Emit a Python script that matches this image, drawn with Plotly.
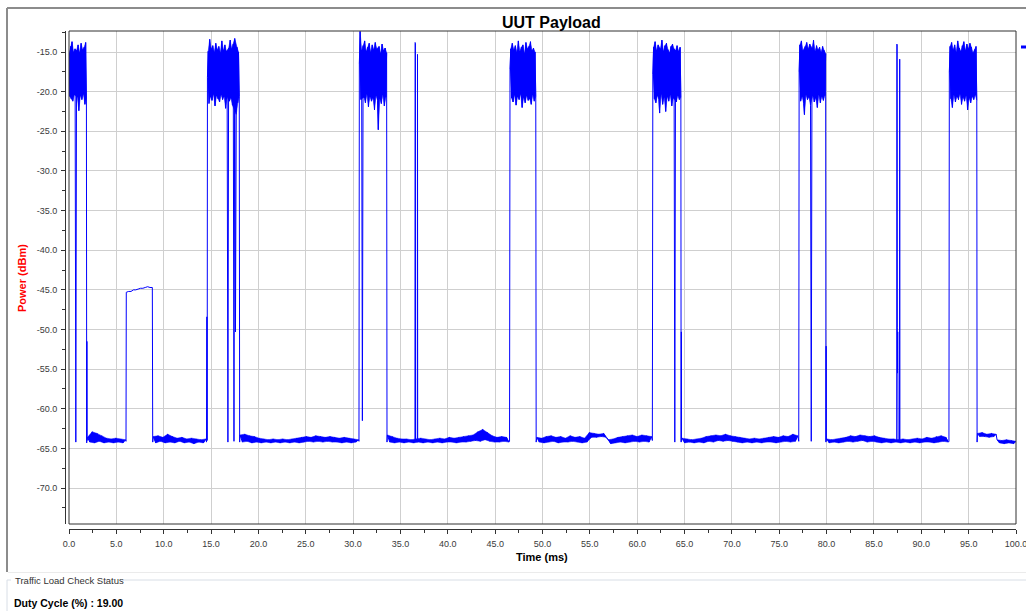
import numpy as np
import plotly.graph_objects as go

# ---------------- data (time in ms, power in dBm) ----------------
# bursts: (start, end) and sampled power values (alternating high / low samples)
b1_span = (0.0, 1.84)
b1_vals = [-15.2, -20.6, -14.3, -20.9, -13.7, -21.2, -15.0, -20.4, -14.6, -64.2, -14.8, -20.7,
           -14.1, -22.4, -15.1, -20.5, -13.9, -21.0, -14.7, -20.3, -14.4, -21.6, -13.8, -20.8]
b2_span = (14.62, 17.98)
b2_vals = [-18.2, -14.9, -21.5, -13.4, -20.6, -14.6, -21.1, -14.2, -20.3, -15.0, -21.8, -13.9,
           -20.5, -14.7, -20.9, -14.3, -21.3, -15.1, -20.4, -13.6, -21.0, -14.8, -20.6, -14.1,
           -22.1, -14.9, -20.7, -64.2, -14.5, -21.2, -13.5, -20.8, -14.6, -21.7, -14.0, -64.1,
           -13.3, -50.3, -22.9, -14.4, -21.4, -15.0, -20.6]
b3_span = (30.66, 33.54)
b3_vals = [-16.5, -12.4, -21.0, -14.8, -61.5, -14.2, -20.7, -13.6, -21.4, -14.9, -20.3, -14.4,
           -21.9, -13.9, -20.6, -15.0, -21.2, -14.1, -20.8, -14.7, -22.3, -13.8, -20.5, -14.6,
           -21.1, -24.8, -14.3, -20.9, -15.2, -21.5, -14.0, -20.4, -14.8, -21.8, -14.5, -20.7, -15.1]
b4_span = (46.57, 49.29)
b4_vals = [-17.2, -14.6, -20.8, -13.9, -21.3, -14.7, -20.4, -14.2, -21.7, -15.0, -20.6, -13.6,
           -21.0, -14.9, -20.3, -14.4, -22.0, -14.1, -20.7, -15.2, -21.4, -13.8, -20.5, -14.6,
           -21.1, -14.3, -20.9, -13.7, -21.6, -14.8, -20.4, -14.5, -21.2, -15.0, -20.6]
b5_span = (61.65, 64.61)
b5_vals = [-17.8, -14.4, -20.9, -13.7, -21.4, -14.8, -20.5, -14.1, -21.0, -22.7, -14.6, -20.3,
           -13.5, -21.6, -14.9, -20.7, -14.2, -22.5, -13.9, -20.6, -14.7, -21.2, -15.1, -20.4,
           -14.3, -21.8, -14.0, -20.8, -14.6, -64.2, -14.8, -21.3, -14.2, -20.5, -14.9, -21.0,
           -14.4, -20.7]
b6_span = (77.1, 79.9)
b6_vals = [-17.5, -14.1, -21.2, -13.6, -20.6, -14.8, -21.5, -22.9, -14.3, -20.4, -13.8, -21.0,
           -14.6, -20.7, -14.0, -21.7, -64.1, -14.5, -20.5, -13.5, -21.3, -14.9, -20.8, -14.2,
           -22.0, -14.7, -20.4, -14.4, -21.4, -15.0, -20.6, -14.3, -21.1, -14.8, -20.5, -15.2]
b7_span = (92.96, 95.86)
b7_vals = [-17.6, -14.3, -20.9, -13.8, -22.0, -14.7, -20.4, -14.1, -21.3, -15.0, -20.6, -13.6,
           -21.0, -14.5, -20.3, -14.9, -21.6, -14.2, -20.7, -13.7, -21.2, -14.8, -20.5, -14.0,
           -22.3, -14.6, -20.8, -13.9, -21.4, -14.4, -20.6, -15.1, -21.0, -14.7, -20.4, -14.3, -21.1]

# low-level (about -45 dBm) burst
s1_span = (6.05, 8.80)
s1_vals = [-45.3, -45.2, -45.2, -45.0, -45.0, -44.9, -44.8, -44.8, -44.7, -44.6, -44.7, -44.7]

# noise floor segments (alternating upper / lower samples)
f1_span = (1.95, 5.95)
f1_vals = [-63.6, -64.2, -62.9, -64.3, -63.1, -64.1, -63.4, -64.3, -63.7, -64.2, -63.8, -64.3,
           -63.7, -64.2, -63.8, -64.3, -63.9]
f2_span = (8.9, 14.45)
f2_vals = [-63.5, -64.3, -63.4, -64.1, -63.6, -64.3, -63.2, -64.2, -63.5, -64.3, -63.7, -64.1,
           -63.6, -64.3, -63.8, -64.2, -63.7, -64.4, -63.8, -64.2, -63.9, -64.3, -63.8]
f3_span = (18.06, 30.56)
f3_vals = [-63.3, -64.2, -63.2, -64.1, -63.4, -64.3, -63.5, -64.2, -63.7, -64.3, -63.8, -64.2,
           -63.9, -64.3, -63.8, -64.2, -63.9, -64.3, -63.8, -64.2, -63.9, -64.3, -63.8, -64.2,
           -63.7, -64.3, -63.6, -64.2, -63.5, -64.1, -63.6, -64.2, -63.4, -64.1, -63.5, -64.2,
           -63.6, -64.1, -63.5, -64.2, -63.6, -64.2, -63.7, -64.3, -63.6, -64.2, -63.7, -64.3,
           -63.8, -64.2, -63.9]
f4_span = (33.62, 46.45)
f4_vals = [-63.3, -64.2, -63.5, -64.3, -63.7, -64.2, -63.8, -64.3, -63.8, -64.2, -63.9, -64.3,
           -63.8, -64.2, -63.7, -64.3, -63.8, -64.2, -63.9, -64.3, -63.8, -64.2, -63.7, -64.3,
           -63.8, -64.2, -63.6, -64.2, -63.7, -64.3, -63.6, -64.2, -63.5, -64.2, -63.4, -64.1,
           -63.3, -64.0, -62.9, -64.1, -62.6, -63.9, -63.0, -64.1, -63.4, -64.2, -63.6, -64.2,
           -63.5, -64.1, -63.6, -64.2]
f5_span = (49.4, 61.5)
f5_vals = [-63.6, -64.2, -63.7, -64.3, -63.5, -64.2, -63.4, -64.1, -63.6, -64.3, -63.5, -64.2,
           -63.7, -64.2, -63.4, -64.1, -63.6, -64.2, -63.5, -64.3, -63.7, -64.2, -63.0, -63.6,
           -63.1, -63.6, -63.2, -63.5, -63.1, -63.6, -63.9, -64.4, -63.8, -64.3, -63.6, -64.2,
           -63.5, -64.3, -63.4, -64.2, -63.3, -64.1, -63.5, -64.2, -63.3, -64.1, -63.4, -64.2, -63.5]
f6_span = (64.75, 76.95)
f6_vals = [-63.7, -64.3, -63.8, -64.2, -63.9, -64.3, -63.8, -64.2, -63.7, -64.3, -63.5, -64.1,
           -63.4, -64.2, -63.3, -64.0, -63.4, -64.1, -63.2, -64.0, -63.4, -64.1, -63.5, -64.2,
           -63.6, -64.3, -63.7, -64.2, -63.8, -64.3, -63.7, -64.2, -63.8, -64.3, -63.7, -64.2,
           -63.6, -64.2, -63.5, -64.3, -63.6, -64.2, -63.4, -64.1, -63.5, -64.2, -63.2, -64.1, -63.4]
f7_span = (80.02, 92.85)
f7_vals = [-63.8, -64.3, -63.9, -64.2, -63.8, -64.3, -63.7, -64.2, -63.6, -64.1, -63.4, -64.2,
           -63.5, -64.1, -63.3, -64.0, -63.4, -64.2, -63.5, -64.1, -63.4, -64.2, -63.6, -64.3,
           -63.7, -64.2, -63.8, -64.3, -63.8, -64.2, -63.9, -64.3, -63.8, -64.2, -63.9, -64.3,
           -63.8, -64.2, -63.7, -64.3, -63.8, -64.2, -63.6, -64.2, -63.7, -64.3, -63.5, -64.2,
           -63.4, -64.1, -63.6, -64.2]
f8a_span = (95.93, 97.9)
f8a_vals = [-63.1, -63.5, -63.0, -63.5, -63.2, -63.6, -63.1, -63.5, -63.2]
f8b_span = (98.0, 100.0)
f8b_vals = [-63.9, -64.3, -64.0, -64.4, -63.9, -64.3, -64.0, -64.4, -64.1]

# individual edge / spike samples
edge_times = [1.87, 1.89, 1.91, 6.02, 8.84, 14.52, 14.56, 14.59, 18.02, 30.62, 33.58,
              36.53, 36.55, 36.58, 36.59, 36.78, 36.80, 36.82, 46.52, 49.33, 61.6,
              64.64, 64.66, 64.68, 77.06, 79.93, 79.95, 79.97,
              87.40, 87.42, 87.45, 87.47, 87.49, 87.51, 87.53, 87.55, 87.70, 87.72, 87.74,
              92.92, 95.89]
edge_values = [-64.3, -51.5, -64.0, -64.1, -64.2, -64.2, -48.4, -64.0, -64.2, -64.1, -64.2,
               -64.1, -13.8, -13.9, -64.0, -64.2, -15.3, -64.0, -64.1, -64.2, -64.0,
               -64.2, -50.3, -64.1, -64.1, -64.2, -52.1, -64.0,
               -64.1, -14.0, -14.1, -49.8, -55.5, -50.3, -55.2, -64.0, -64.2, -15.9, -64.0,
               -64.1, -64.2]

x_tick_vals = [0, 5, 10, 15, 20, 25, 30, 35, 40, 45, 50, 55, 60, 65, 70, 75, 80, 85, 90, 95, 100]
x_tick_text = ["0.0", "5.0", "10.0", "15.0", "20.0", "25.0", "30.0", "35.0", "40.0", "45.0", "50.0",
               "55.0", "60.0", "65.0", "70.0", "75.0", "80.0", "85.0", "90.0", "95.0", "100.0"]
y_tick_vals = [-15, -20, -25, -30, -35, -40, -45, -50, -55, -60, -65, -70]
y_tick_text = ["-15.0", "-20.0", "-25.0", "-30.0", "-35.0", "-40.0", "-45.0", "-50.0",
               "-55.0", "-60.0", "-65.0", "-70.0"]

bursts = [(b1_span, b1_vals), (b2_span, b2_vals), (b3_span, b3_vals), (b4_span, b4_vals),
          (b5_span, b5_vals), (b6_span, b6_vals), (b7_span, b7_vals)]
floors = [(f1_span, f1_vals), (f2_span, f2_vals), (f3_span, f3_vals), (f4_span, f4_vals),
          (f5_span, f5_vals), (f6_span, f6_vals), (f7_span, f7_vals), (f8a_span, f8a_vals),
          (f8b_span, f8b_vals)]
segments = bursts + floors + [(s1_span, s1_vals)]

pts = []
for (t0, t1), vals in segments:
    ts = np.linspace(t0, t1, len(vals))
    pts.extend(zip(ts.tolist(), vals))
pts.extend(zip(edge_times, edge_values))
pts.sort(key=lambda p: p[0])
t_all = [p[0] for p in pts]
v_all = [p[1] for p in pts]

# ---------------- layout helpers (pixel -> paper) ----------------
W, H = 1026, 611
ML, MR, MT, MB = 65, 10, 31, 82
PW, PH = W - ML - MR, H - MT - MB


def px(x):
    return (x - ML) / PW


def py(y):
    return (H - MB - y) / PH


BLUE = "#0000ff"
fig = go.Figure()

# dense sample clouds drawn as envelope bands (high/low samples of each segment)
for (t0, t1), vals in bursts:
    ts = np.linspace(t0, t1, len(vals)).tolist()
    top = [(t, v) for t, v in zip(ts, vals) if v > -18.6]
    bot = [(t, v) for t, v in zip(ts, vals) if -26 < v <= -18.6]
    poly = top + bot[::-1]
    fig.add_trace(go.Scatter(x=[p[0] for p in poly], y=[p[1] for p in poly], mode="lines",
                             fill="toself", fillcolor=BLUE, line=dict(color=BLUE, width=0.5),
                             showlegend=False, hoverinfo="skip"))
for (t0, t1), vals in floors:
    ts = np.linspace(t0, t1, len(vals)).tolist()
    top = list(zip(ts[0::2], vals[0::2]))
    bot = list(zip(ts[1::2], vals[1::2]))
    poly = top + bot[::-1]
    fig.add_trace(go.Scatter(x=[p[0] for p in poly], y=[p[1] for p in poly], mode="lines",
                             fill="toself", fillcolor=BLUE, line=dict(color=BLUE, width=0.5),
                             showlegend=False, hoverinfo="skip"))

fig.add_trace(go.Scatter(x=t_all, y=v_all, mode="lines", name="Power",
                         line=dict(color=BLUE, width=1, simplify=False), showlegend=False,
                         hoverinfo="skip"))

TICK_FONT = dict(family="Liberation Sans, Arial, sans-serif", size=9, color="#3a3a3a")
fig.update_layout(
    width=W, height=H,
    margin=dict(l=ML, r=MR, t=MT, b=MB, pad=0),
    paper_bgcolor="white", plot_bgcolor="white",
    template="none",
    showlegend=False,
    xaxis=dict(range=[0, 100], domain=[px(69), 1], anchor="free", position=0,
               tickmode="array", tickvals=x_tick_vals, ticktext=x_tick_text,
               ticks="outside", ticklen=4, tickwidth=1, tickcolor="#333333",
               showline=True, linecolor="#333333", linewidth=1,
               showgrid=True, gridcolor="#cfcfcf", gridwidth=1, zeroline=False,
               tickfont=TICK_FONT, automargin=False, ticklabelstandoff=2,
               ticklabeloverflow="allow",
               minor=dict(tickmode="linear", tick0=0, dtick=2.5, ticks="outside", ticklen=3,
                          tickcolor="#333333", showgrid=False)),
    yaxis=dict(range=[-74.53, -12.35], domain=[py(524), 1], anchor="free", position=0,
               tickmode="array", tickvals=y_tick_vals, ticktext=y_tick_text,
               ticks="outside", ticklen=4, tickwidth=1, tickcolor="#333333",
               showline=True, linecolor="#333333", linewidth=1,
               showgrid=True, gridcolor="#cfcfcf", gridwidth=1, zeroline=False,
               tickfont=TICK_FONT, automargin=False, ticklabelstandoff=2,
               ticklabeloverflow="allow",
               minor=dict(tickmode="linear", tick0=-15, dtick=2.5, ticks="outside", ticklen=3,
                          tickcolor="#333333", showgrid=False)),
)

shapes = [
    # plot frame
    dict(type="rect", xref="x domain", yref="y domain", x0=0, x1=1, y0=0, y1=1,
         line=dict(color="#303030", width=1), layer="above"),
    # outer chart panel border
    dict(type="line", xref="paper", yref="paper", x0=px(7), x1=px(1030), y0=py(8), y1=py(8),
         line=dict(color="#8c8c8c", width=2)),
    dict(type="line", xref="paper", yref="paper", x0=px(7), x1=px(7), y0=py(8), y1=py(572),
         line=dict(color="#8c8c8c", width=2)),
    dict(type="line", xref="paper", yref="paper", x0=px(8), x1=px(1030), y0=py(572.5), y1=py(572.5),
         line=dict(color="#ebebeb", width=1)),
    # group box
    dict(type="line", xref="paper", yref="paper", x0=px(7), x1=px(11), y0=py(580), y1=py(580),
         line=dict(color="#d8dee6", width=1)),
    dict(type="line", xref="paper", yref="paper", x0=px(123), x1=px(1030), y0=py(580), y1=py(580),
         line=dict(color="#d8dee6", width=1)),
    dict(type="line", xref="paper", yref="paper", x0=px(7), x1=px(7), y0=py(580), y1=py(615),
         line=dict(color="#d8dee6", width=1)),
    # legend marker (cut off at right)
    dict(type="line", xref="paper", yref="paper", x0=px(1021), x1=px(1032), y0=py(47), y1=py(47),
         line=dict(color=BLUE, width=3)),
]
fig.update_layout(shapes=shapes)

BOLD = "Liberation Sans, Arial, sans-serif"
annotations = [
    dict(text="<b>UUT Payload</b>", x=px(551.5), y=py(22), xref="paper", yref="paper",
         showarrow=False, xanchor="center", yanchor="middle",
         font=dict(family=BOLD, size=16, color="#000000")),
    dict(text="<b>Power (dBm)</b>", x=px(22), y=py(278), xref="paper", yref="paper",
         showarrow=False, xanchor="center", yanchor="middle", textangle=-90,
         font=dict(family=BOLD, size=11, color="#ff0000")),
    dict(text="<b>Time (ms)</b>", x=px(542), y=py(557), xref="paper", yref="paper",
         showarrow=False, xanchor="center", yanchor="middle",
         font=dict(family=BOLD, size=11, color="#000000")),
    dict(text="Traffic Load Check Status", x=px(13), y=py(580), xref="paper", yref="paper",
         showarrow=False, xanchor="left", yanchor="middle",
         font=dict(family=BOLD, size=9.5, color="#333333")),
    dict(text="<b>Duty Cycle (%) : 19.00</b>", x=px(12), y=py(603), xref="paper", yref="paper",
         showarrow=False, xanchor="left", yanchor="middle",
         font=dict(family=BOLD, size=10.5, color="#000000")),
]
fig.update_layout(annotations=annotations)

fig.write_html("out.html", config={"displayModeBar": False},
               post_script="document.body.style.margin='0';document.body.style.overflow='hidden';")
